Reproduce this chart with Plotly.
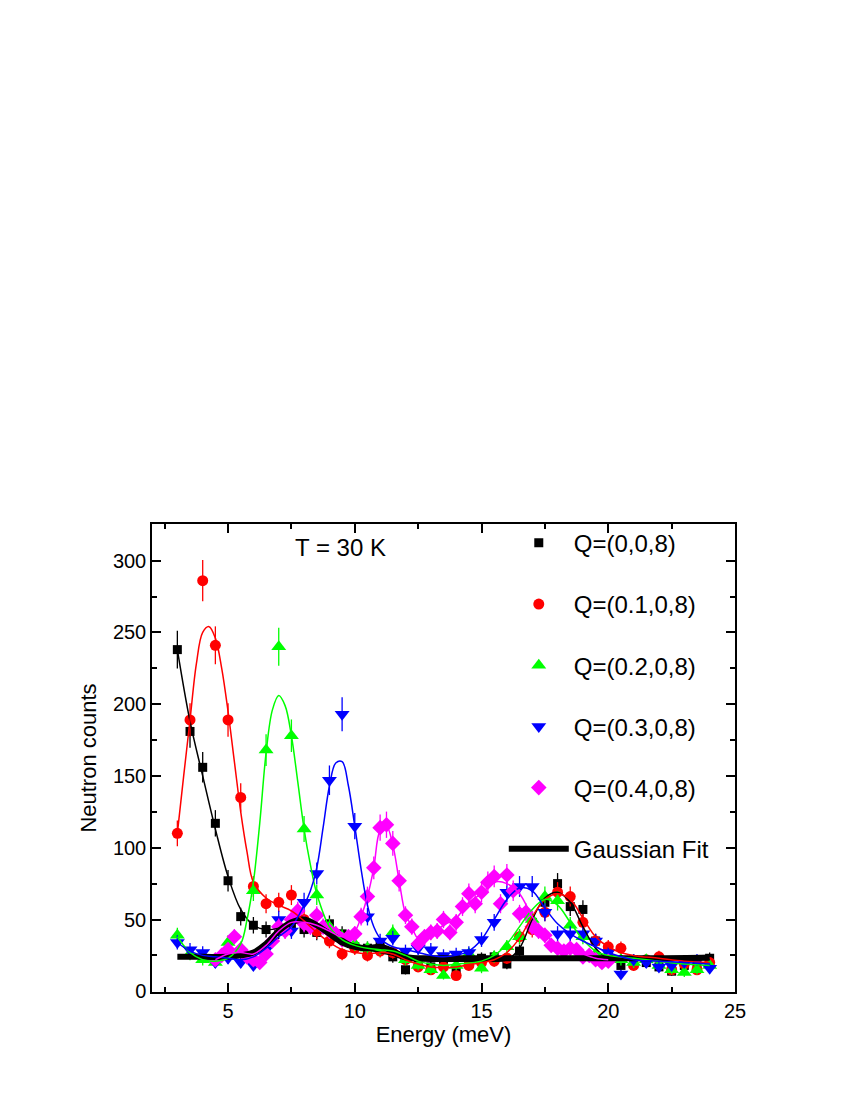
import numpy as np
import plotly.graph_objs as go

# measured points, 0.5 meV steps
energy = [3, 3.5, 4, 4.5, 5, 5.5, 6, 6.5, 7, 7.5, 8, 8.5, 9, 9.5, 10, 10.5, 11, 11.5, 12, 12.5,
          13, 13.5, 14, 14.5, 15, 15.5, 16, 16.5, 17, 17.5, 18, 18.5, 19, 19.5, 20, 20.5, 21, 21.5,
          22, 22.5, 23, 23.5, 24]
counts_q00 = [238, 181, 156, 117, 77, 52, 46, 43, 42, 45, 43, 41, 47, 40, 31, 30, 32, 24, 15, 20,
              17, 19, 15, 22, 23, 24, 19, 28, 48, 62, 75, 59, 57, 35, 28, 18, 22, 20, 17, 14, 18, 20, 23]
counts_q01 = [110, 189, 286, 241, 189, 135, 73, 61, 62, 67, 50, 42, 35, 26, 30, 25, 28, 27, 22, 17,
              15, 17, 11, 18, 20, 21, 23, 38, 43, 55, 69, 66, 48, 35, 31, 30, 18, 22, 24, 15, 19, 15, 20]
counts_q02 = [39, 26, 22, 20, 34, 30, 70, 168, 240, 178, 113, 67, 45, 38, 33, 30, 30, 41, 22, 18,
              15, 11, 18, 26, 16, 24, 31, 38, 50, 66, 63, 46, 38, 26, 24, 22, 20, 22, 18, 15, 13, 15, 18]
counts_q03 = [34, 29, 27, 20, 23, 20, 18, 29, 50, 42, 62, 82, 147, 193, 115, 52, 35, 37, 28, 30,
              29, 25, 26, 27, 36, 48, 69, 73, 73, 55, 40, 40, 40, 35, 27, 12, 22, 20, 17, 18, 20, 22, 16]

# Q=(0.4,0,8) was measured on a finer 0.25 meV grid
energy_q04 = [4.5, 4.75, 5, 5.25, 5.5, 5.75, 6, 6.25, 6.5, 6.75, 7, 7.25, 7.5, 7.75, 8, 8.25, 8.5,
              8.75, 9, 9.25, 9.5, 9.75, 10, 10.25, 10.5, 10.75, 11, 11.25, 11.5, 11.75, 12, 12.25,
              12.5, 12.75, 13, 13.25, 13.5, 13.75, 14, 14.25, 14.5, 14.75, 15, 15.25, 15.5, 15.75,
              16, 16.25, 16.5, 16.75, 17, 17.25, 17.5, 17.75, 18, 18.25, 18.5, 18.75, 19, 19.25,
              19.5, 19.75, 20]
counts_q04 = [22, 25, 29, 38, 29, 24, 22, 20, 26, 35, 45, 42, 50, 56, 47, 45, 53, 45, 42, 40, 36,
              38, 40, 52, 66, 86, 114, 116, 103, 77, 53, 45, 33, 38, 41, 42, 50, 41, 48, 59, 68, 61,
              69, 76, 80, 61, 81, 70, 54, 55, 45, 42, 39, 32, 30, 28, 30, 29, 24, 25, 22, 20, 21]

# fitted curves
fit_e_q00 = [3, 3.5, 4, 4.5, 5, 5.5, 6, 6.5, 7, 7.5, 8, 8.5, 9, 9.5, 10, 10.5, 11, 11.5, 12,
             13, 14, 15, 16, 16.5, 17, 17.5, 18, 18.5, 19, 19.5, 20, 21, 22, 23, 24]
fit_q00 = [238, 188, 150, 113, 80, 57, 46, 43, 44, 47, 49, 46, 42, 37, 32, 29, 27, 25, 22,
           21, 21, 21, 22, 30, 50, 65, 69, 62, 45, 30, 23, 22, 22, 22, 22]
fit_e_q01 = [3, 3.25, 3.5, 3.75, 4, 4.25, 4.5, 4.75, 5, 5.25, 5.5, 5.75, 6, 6.5, 7, 7.5, 8, 8.5,
             9, 9.5, 10, 10.5, 11, 11.5, 12, 12.5, 13, 14, 15, 15.5, 16, 16.5, 17, 17.5, 18, 18.5,
             19, 19.5, 20, 20.5, 21, 22, 23, 24]
fit_q01 = [110, 150, 189, 228, 250, 254, 246, 225, 195, 160, 125, 97, 76, 65, 60, 56, 49, 41,
           34, 29, 27, 26, 27, 26, 22, 19, 17, 17, 20, 22, 27, 37, 52, 64, 68, 64,
           51, 38, 31, 27, 25, 23, 21, 20]
fit_e_q02 = [3, 3.5, 4, 4.5, 5, 5.5, 5.75, 6, 6.25, 6.5, 6.75, 7, 7.25, 7.5, 7.75, 8, 8.25, 8.5,
             9, 9.5, 10, 10.5, 11, 11.5, 12, 12.5, 13, 13.5, 14, 15, 15.5, 16, 16.5, 17, 17.5, 18,
             18.5, 19, 19.5, 20, 21, 22, 23, 24]
fit_q02 = [38, 27, 22, 21, 23, 33, 50, 76, 117, 166, 196, 206, 199, 178, 146, 113, 88, 68,
           45, 36, 32, 30, 29, 28, 25, 21, 19, 18, 19, 21, 25, 33, 45, 57, 64, 60,
           48, 36, 28, 25, 23, 21, 19, 18]
fit_e_q03 = [3, 3.5, 4, 4.5, 5, 5.5, 6, 6.5, 7, 7.5, 8, 8.25, 8.5, 8.75, 9, 9.25, 9.5, 9.75, 10,
             10.25, 10.5, 10.75, 11, 11.5, 12, 12.5, 13, 13.5, 14, 14.5, 15, 15.5, 16, 16.5, 17,
             17.5, 18, 18.5, 19, 19.5, 20, 21, 22, 23, 24]
fit_q03 = [34, 28, 25, 24, 23, 22, 24, 30, 38, 45, 60, 70, 86, 114, 143, 159, 160, 143, 115,
           85, 60, 45, 37, 31, 29, 27, 25, 24, 25, 28, 36, 50, 64, 72, 70,
           58, 47, 40, 35, 31, 27, 22, 21, 20, 19]
fit_e_q04 = [4.5, 5, 5.5, 6, 6.5, 7, 7.5, 8, 8.5, 9, 9.5, 10, 10.25, 10.5, 10.75, 11, 11.25, 11.5,
             11.75, 12, 12.25, 12.5, 13, 13.5, 14, 14.5, 15, 15.5, 16, 16.5, 17, 17.5, 18, 18.5,
             19, 19.5, 20]
fit_q04 = [22, 26, 27, 26, 32, 42, 48, 48, 46, 42, 38, 42, 52, 66, 86, 112, 115, 102,
           77, 54, 45, 37, 40, 46, 51, 62, 68, 76, 75, 68, 52, 40, 32, 30,
           26, 23, 22]
gauss_e = [3, 4, 5, 5.5, 6, 6.5, 7, 7.5, 8, 8.5, 9, 9.5, 10, 10.5, 11, 11.5, 12, 13, 14, 16,
           18, 20, 22, 24]
gauss_fit = [24, 24, 24, 25, 27, 33, 42, 48, 50, 46, 40, 34, 31, 30, 31, 28, 24, 23, 23, 23,
             23, 23, 23, 23.5]

names = ['Q=(0,0,8)', 'Q=(0.1,0,8)', 'Q=(0.2,0,8)', 'Q=(0.3,0,8)', 'Q=(0.4,0,8)']
colors = ['#000000', '#ff0000', '#00ff00', '#0000ff', '#ff00ff']
symbols = ['square', 'circle', 'triangle-up', 'triangle-down', 'diamond']
sizes = [9, 11, 13, 13, 12]

xs = [energy, energy, energy, energy, energy_q04]
ys = [counts_q00, counts_q01, counts_q02, counts_q03, counts_q04]
fit_xs = [fit_e_q00, fit_e_q01, fit_e_q02, fit_e_q03, fit_e_q04]
fit_ys = [fit_q00, fit_q01, fit_q02, fit_q03, fit_q04]

font = 'Liberation Sans, Arial, sans-serif'

data = []
for i in range(len(names)):
    data.append(go.Scatter(
        x=xs[i], y=ys[i], mode='markers', name=names[i],
        legendgroup=names[i], legendrank=i + 1,
        marker=dict(color=colors[i], symbol=symbols[i], size=sizes[i]),
        error_y=dict(type='data', array=list(0.85 * np.sqrt(ys[i])),
                     color=colors[i], thickness=1.3, width=0)))

data.append(go.Scatter(
    x=gauss_e, y=gauss_fit, mode='lines', name='Gaussian Fit',
    legendgroup='gauss', legendrank=10,
    line=dict(color='black', width=6, shape='spline')))

for i in range(len(names)):
    data.append(go.Scatter(
        x=fit_xs[i], y=fit_ys[i], mode='lines', showlegend=False,
        line=dict(color=colors[i], width=1.5, shape='spline')))

axis_common = dict(
    showline=True, linecolor='black', linewidth=1.5, mirror='ticks',
    ticks='inside', ticklen=9, tickwidth=1.5, tickcolor='black',
    showgrid=False, zeroline=False,
    tickfont=dict(family=font, size=20, color='black'),
)

# the page adds an 8px body margin, so margins are trimmed by 8px
layout = go.Layout(
    width=850, height=1100,
    margin=dict(l=144, r=123, t=516, b=116),
    paper_bgcolor='white', plot_bgcolor='white',
    font=dict(family=font, color='black'),
    xaxis=dict(axis_common, range=[2, 25], tick0=0, dtick=5,
               minor=dict(dtick=2.5, ticks='inside', ticklen=5, tickwidth=1.5, tickcolor='black'),
               title=dict(text='Energy (meV)', font=dict(family=font, size=22), standoff=2)),
    yaxis=dict(axis_common, range=[-0.5, 325.5], tick0=0, dtick=50,
               minor=dict(dtick=25, ticks='inside', ticklen=5, tickwidth=1.5, tickcolor='black'),
               title=dict(text='Neutron counts', font=dict(family=font, size=22), standoff=10)),
    legend=dict(x=0.6034, y=1.007, xanchor='left', yanchor='top',
                bgcolor='rgba(0,0,0,0)', borderwidth=0,
                font=dict(family=font, size=24, color='black'),
                tracegroupgap=27, itemwidth=60),
    annotations=[dict(text='T = 30 K', x=0.324, y=0.949, xref='paper', yref='paper',
                      xanchor='center', yanchor='middle', showarrow=False,
                      font=dict(family=font, size=24, color='black'))],
)

fig = go.Figure(data=data, layout=layout)
fig.write_html('out.html')
